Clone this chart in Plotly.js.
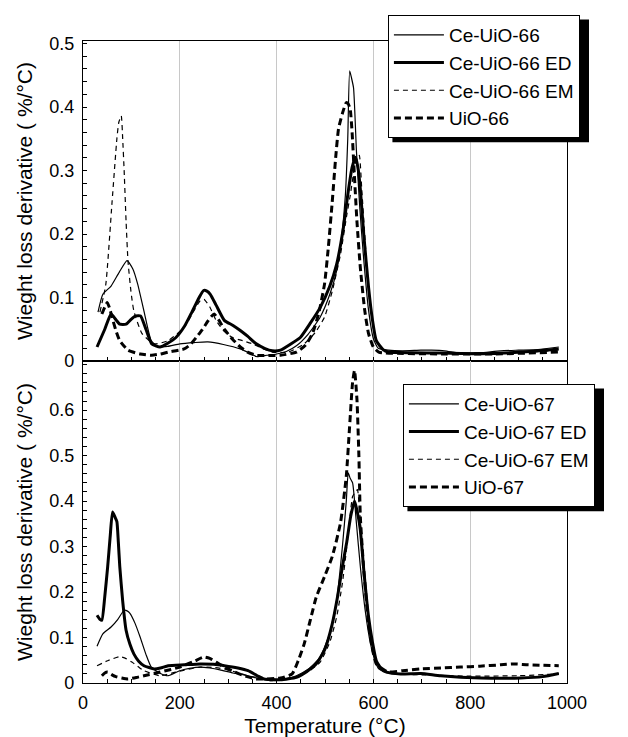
<!DOCTYPE html>
<html>
<head>
<meta charset="utf-8">
<script src="https://cdn.plot.ly/plotly-3.0.1.min.js"></script>
<style>html,body{margin:0;padding:0;background:#fff;}#chart{width:628px;height:737px;}</style>
</head>
<body>
<div id="chart"></div>
<script>
// ---------- Top panel (UiO-66 family) ----------
var ce66_x = [31,41,58,75,91,103,113,127,141,155,175,200,230,258,290,325,345,358,380,400,420,441,465,490,510,524,535,542,547,551,555,559,565,572,580,590,600,610,631,660,698,720,747,780,820,863,900,940,983];
var ce66_y = [0.077,0.105,0.118,0.14,0.158,0.145,0.121,0.075,0.032,0.022,0.023,0.027,0.029,0.030,0.026,0.019,0.012,0.007,0.009,0.011,0.015,0.024,0.042,0.069,0.105,0.142,0.20,0.26,0.35,0.457,0.445,0.43,0.33,0.24,0.16,0.08,0.035,0.02,0.017,0.016,0.017,0.017,0.016,0.012,0.013,0.016,0.017,0.018,0.022];

var ce66ed_x = [29,45,58,68,76,89,100,109,119,130,142,159,175,192,210,225,240,249,256,263,275,292,310,325,340,358,375,391,408,430,449,470,490,510,524,538,548,556,563,568,573,580,590,598,606,620,631,680,739,822,905,983];
var ce66ed_y = [0.022,0.05,0.074,0.065,0.058,0.058,0.066,0.071,0.071,0.05,0.027,0.022,0.028,0.037,0.055,0.077,0.1,0.111,0.11,0.105,0.088,0.064,0.056,0.048,0.039,0.027,0.02,0.016,0.017,0.027,0.037,0.06,0.084,0.118,0.152,0.21,0.267,0.305,0.321,0.305,0.271,0.2,0.116,0.065,0.032,0.018,0.014,0.013,0.0125,0.0115,0.014,0.019];

var ce66em_x = [35,47,60,70,74,79,82,85,89,93,99,105,122,147,176,209,230,242,250,262,275,290,308,330,350,370,391,424,457,480,499,515,532,545,552,563,568,571,576,582,590,602,615,631,700,800,900,983];
var ce66em_y = [0.077,0.12,0.25,0.35,0.376,0.386,0.35,0.30,0.22,0.157,0.11,0.079,0.043,0.027,0.032,0.053,0.08,0.095,0.097,0.085,0.064,0.048,0.037,0.032,0.027,0.02,0.014,0.014,0.027,0.045,0.069,0.11,0.168,0.23,0.26,0.313,0.32,0.324,0.27,0.2,0.11,0.043,0.02,0.014,0.013,0.012,0.013,0.017];

var uio66_x = [39,45,50,55,60,68,76,93,118,142,160,176,209,222,234,247,259,265,271,280,292,308,325,340,358,408,441,460,474,487,499,507,515,522,528,536,544,548,552,556,560,566,573,582,590,600,611,650,750,850,983];
var uio66_y = [0.074,0.085,0.092,0.083,0.069,0.048,0.032,0.017,0.011,0.009,0.011,0.014,0.019,0.026,0.037,0.05,0.064,0.07,0.074,0.065,0.050,0.035,0.022,0.014,0.009,0.009,0.014,0.025,0.043,0.075,0.121,0.18,0.251,0.32,0.366,0.39,0.407,0.405,0.397,0.36,0.303,0.22,0.147,0.08,0.043,0.022,0.014,0.012,0.011,0.011,0.014];

// ---------- Bottom panel (UiO-67 family) ----------
var ce67_x = [29,41,58,72,85,92,97,108,118,130,141,158,176,200,220,242,262,283,310,341,365,391,415,441,465,490,510,524,536,544,548,552,557,565,573,583,594,603,611,630,648,698,740,780,850,905,950,983];
var ce67_y = [0.081,0.108,0.123,0.14,0.16,0.158,0.153,0.13,0.101,0.063,0.035,0.022,0.016,0.027,0.032,0.035,0.033,0.029,0.022,0.016,0.009,0.005,0.008,0.016,0.03,0.057,0.11,0.182,0.3,0.4,0.462,0.45,0.44,0.35,0.256,0.16,0.086,0.05,0.031,0.022,0.02,0.021,0.016,0.0125,0.011,0.011,0.014,0.021];

var ce67ed_x = [29,35,39,45,51,56,61,66,70,73,76,82,89,97,105,115,126,147,160,176,209,242,270,292,320,341,360,374,408,441,462,482,500,515,526,536,545,553,561,567,573,580,590,598,606,617,627,656,698,739,822,905,950,983];
var ce67ed_y = [0.149,0.14,0.138,0.19,0.256,0.32,0.376,0.365,0.355,0.31,0.256,0.18,0.116,0.085,0.064,0.048,0.038,0.031,0.033,0.038,0.04,0.042,0.041,0.038,0.033,0.027,0.016,0.009,0.007,0.0125,0.025,0.042,0.075,0.13,0.19,0.256,0.31,0.366,0.40,0.375,0.337,0.25,0.145,0.09,0.049,0.03,0.024,0.02,0.021,0.016,0.011,0.011,0.014,0.021];

var ce67em_x = [29,51,76,90,101,115,126,159,192,242,270,292,341,391,441,470,490,510,524,536,544,552,557,563,567,572,577,585,594,603,611,630,648,700,800,900,983];
var ce67em_y = [0.038,0.049,0.058,0.053,0.046,0.035,0.027,0.016,0.024,0.035,0.034,0.031,0.016,0.005,0.014,0.028,0.046,0.09,0.145,0.22,0.29,0.37,0.41,0.42,0.425,0.37,0.29,0.18,0.094,0.055,0.035,0.024,0.02,0.018,0.015,0.016,0.02];

var uio67_x = [39,45,51,60,68,80,93,110,126,159,200,230,250,262,275,290,308,330,358,408,432,445,457,470,482,499,515,532,544,550,557,561,566,570,573,580,590,598,606,620,631,660,698,740,780,820,863,888,920,983];
var uio67_y = [0.016,0.022,0.024,0.018,0.014,0.011,0.009,0.012,0.016,0.024,0.035,0.048,0.057,0.054,0.046,0.036,0.027,0.017,0.009,0.011,0.02,0.05,0.086,0.14,0.189,0.234,0.278,0.352,0.455,0.55,0.661,0.687,0.624,0.5,0.366,0.25,0.13,0.075,0.042,0.03,0.024,0.027,0.031,0.033,0.035,0.037,0.04,0.042,0.04,0.038];

var names66 = ['Ce-UiO-66','Ce-UiO-66 ED','Ce-UiO-66 EM','UiO-66'];
var names67 = ['Ce-UiO-67','Ce-UiO-67 ED','Ce-UiO-67 EM','UiO-67'];
var xTickVals = [0,200,400,600,800,1000];
var yTickTop = [0,0.1,0.2,0.3,0.4,0.5];
var yTickBot = [0,0.1,0.2,0.3,0.4,0.5,0.6];

var styles = [
  {width:1.2, dash:'solid'},
  {width:3, dash:'solid'},
  {width:1.2, dash:'5px,4px'},
  {width:3, dash:'7px,4px'}
];
function tr(x, y, name, i, xa, ya, lg) {
  return {x:x, y:y, name:name, type:'scatter', mode:'lines', xaxis:xa, yaxis:ya, legend:lg,
          line:{color:'#000', width:styles[i].width, dash:styles[i].dash, shape:'spline', smoothing:0.5},
          hoverinfo:'skip'};
}
var data = [
  tr(ce66_x, ce66_y, names66[0], 0, 'x', 'y', 'legend'),
  tr(ce66ed_x, ce66ed_y, names66[1], 1, 'x', 'y', 'legend'),
  tr(ce66em_x, ce66em_y, names66[2], 2, 'x', 'y', 'legend'),
  tr(uio66_x, uio66_y, names66[3], 3, 'x', 'y', 'legend'),
  tr(ce67_x, ce67_y, names67[0], 0, 'x2', 'y2', 'legend2'),
  tr(ce67ed_x, ce67ed_y, names67[1], 1, 'x2', 'y2', 'legend2'),
  tr(ce67em_x, ce67em_y, names67[2], 2, 'x2', 'y2', 'legend2'),
  tr(uio67_x, uio67_y, names67[3], 3, 'x2', 'y2', 'legend2')
];

var F = 'Liberation Sans, Arial, sans-serif';
var LEGFONT = 19, ITEMW = 50, BW = 1;
var W = 628, H = 737, M = {l:83, r:61, t:41, b:54};
var split = 0.5016;
function xax(showLabels, anchor) {
  return {range:[0,1000], tickmode:'array', tickvals:xTickVals, showticklabels:showLabels,
    ticks:'inside', ticklen:4, tickcolor:'#000', showgrid:true, gridcolor:'#c8c8c8', gridwidth:1,
    zeroline:false, showline:true, linecolor:'#000', linewidth:1.2, mirror:true,
    minor:{dtick:50, tick0:0, ticks:'inside', ticklen:4, tickcolor:'#000', showgrid:false},
    tickfont:{family:F, size:18, color:'#000'}, ticklabelstandoff:3, anchor:anchor};
}
function yax(range, tv, dom, anchor) {
  return {range:range, domain:dom, tickmode:'array', tickvals:tv, ticks:'inside', ticklen:4, tickcolor:'#000',
    showgrid:false, zeroline:false, showline:true, linecolor:'#000', linewidth:1.2, mirror:true,
    minor:{dtick:0.02, tick0:0, ticks:'inside', ticklen:4, tickcolor:'#000', showgrid:false},
    tickfont:{family:F, size:18, color:'#000'}, ticklabelstandoff:4, anchor:anchor,
    title:{text:'Wieght loss derivative ( %/°C)', font:{family:F, size:21, color:'#000'}, standoff:10}};
}
var xa1 = xax(false, 'y'); xa1.matches = 'x2';
var xa2 = xax(true, 'y2');
xa2.title = {text:'Temperature (°C)', font:{family:F, size:21, color:'#000'}, standoff:9};

var legBase = {bgcolor:'#fff', bordercolor:'#000', borderwidth:BW, font:{family:F, size:LEGFONT, color:'#000'},
  xanchor:'left', yanchor:'top', itemwidth:ITEMW, tracegroupgap:0};
var leg1 = Object.assign({}, legBase, {x:0.630, y:1.0405});
var leg2 = Object.assign({}, legBase, {x:0.661, y:0.4657});

// Drop shadow behind each legend box: estimate the legend box size from the
// measured label widths (same rules Plotly uses for a vertical legend).
var ctx = document.createElement('canvas').getContext('2d');
ctx.font = LEGFONT + 'px "Liberation Sans", Arial, sans-serif';
function legendBox(names) {
  var tw = 0;
  names.forEach(function(n) { tw = Math.max(tw, ctx.measureText(n).width); });
  var pad = 2 * (BW + 5);
  return {w: tw + ITEMW + 10 + pad, h: names.length * (Math.max(LEGFONT * 1.3, 16) + 3) + pad};
}
var pw = W - M.l - M.r, ph = H - M.t - M.b, off = 4.5;
function shadow(leg, names) {
  var b = legendBox(names);
  var left = M.l + leg.x * pw, top = M.t + (1 - leg.y) * ph;
  return {type:'rect', xref:'paper', yref:'paper',
    x0:(left + off - M.l) / pw, x1:(left + b.w + off - M.l) / pw,
    y1:1 - (top + off - M.t) / ph, y0:1 - (top + b.h + off - M.t) / ph,
    fillcolor:'#000', line:{width:0}, layer:'above'};
}

var layout = {
  width:W, height:H, margin:M,
  paper_bgcolor:'#fff', plot_bgcolor:'#fff',
  showlegend:true,
  xaxis:xa1, yaxis:yax([0,0.504], yTickTop, [split,1], 'x'),
  xaxis2:xa2, yaxis2:yax([0,0.708], yTickBot, [0,split], 'x2'),
  legend:leg1, legend2:leg2,
  shapes:[shadow(leg1, names66), shadow(leg2, names67)]
};
Plotly.newPlot('chart', data, layout, {staticPlot:true, displayModeBar:false});
</script>
</body>
</html>
